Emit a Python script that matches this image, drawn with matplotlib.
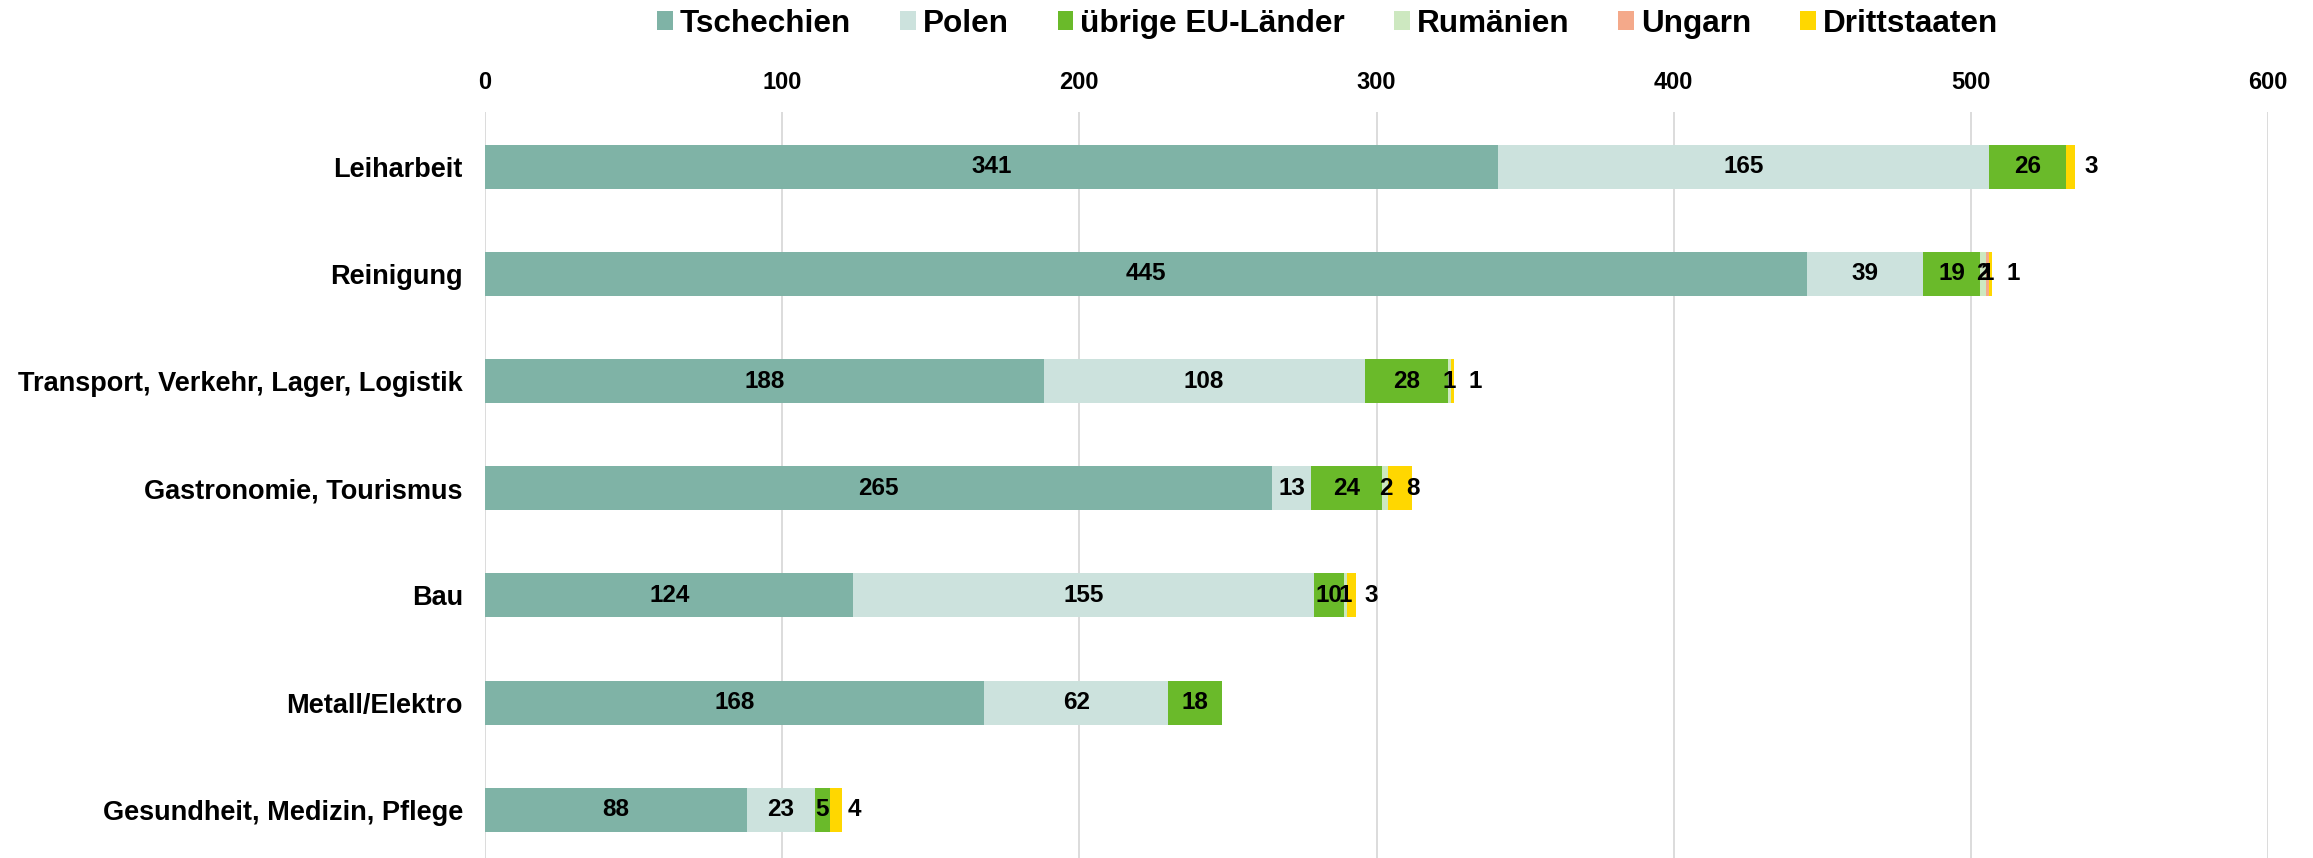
import matplotlib
matplotlib.use("Agg")
import matplotlib.pyplot as plt
from matplotlib.patches import Patch
import numpy as np

plt.rcParams['font.family'] = ['Liberation Sans', 'DejaVu Sans']
plt.rcParams['font.weight'] = 'bold'

categories = ["Leiharbeit", "Reinigung", "Transport, Verkehr, Lager, Logistik",
              "Gastronomie, Tourismus", "Bau", "Metall/Elektro",
              "Gesundheit, Medizin, Pflege"]
series_names = ["Tschechien", "Polen", "übrige EU-Länder", "Rumänien", "Ungarn", "Drittstaaten"]
tschechien = [341, 445, 188, 265, 124, 168, 88]
polen = [165, 39, 108, 13, 155, 62, 23]
uebrige_eu = [26, 19, 28, 24, 10, 18, 5]
rumaenien = [0, 2, 1, 2, 1, 0, 0]
ungarn = [0, 1, 0, 0, 0, 0, 0]
drittstaaten = [3, 1, 1, 8, 3, 0, 4]
colors = ["#7fb3a6", "#cce2dd", "#6aba2a", "#cde8c0", "#f4a98a", "#ffd700"]
xticks = [0, 100, 200, 300, 400, 500, 600]

series = [tschechien, polen, uebrige_eu, rumaenien, ungarn, drittstaaten]

W, H = 2313, 858
fig = plt.figure(figsize=(W / 100, H / 100), dpi=100)
ax_left = 485 / W
ax_right = 2268 / W
ax_top = 1 - 112 / H
ax = fig.add_axes([ax_left, 0, ax_right - ax_left, ax_top])

y = np.arange(len(categories))
left = np.zeros(len(categories))
bar_h = 0.41
for i, (name, vals, c) in enumerate(zip(series_names, series, colors)):
    vals = np.array(vals, dtype=float)
    ax.barh(y, vals, left=left, height=bar_h, color=c, zorder=3, label=name)
    for j in range(len(categories)):
        v = vals[j]
        if v <= 0:
            continue
        if i == len(series) - 1:
            ax.annotate(f"{int(v)}", xy=(left[j], y[j]), xytext=(13, 0),
                        textcoords="offset points", ha="left", va="center",
                        fontsize=17.5, fontweight="bold", color="black", zorder=5)
        else:
            ax.text(left[j] + v / 2, y[j], f"{int(v)}", ha="center", va="center",
                    fontsize=17.5, fontweight="bold", color="black", zorder=5)
    left = left + vals

ax.set_xlim(0, 600)
ax.set_ylim(6.45, -0.51)
ax.set_yticks(y)
ax.set_yticklabels(categories, fontsize=19.5, fontweight="bold")
ax.set_xticks(xticks)
ax.set_xticklabels([str(t) for t in xticks], fontsize=17, fontweight="bold")
ax.xaxis.tick_top()
ax.tick_params(axis="x", length=0, pad=13)
ax.tick_params(axis="y", length=0, pad=16)
for s in ax.spines.values():
    s.set_visible(False)
ax.grid(axis="x", color="#dcdcdc", linewidth=1.4, zorder=1)
ax.set_axisbelow(True)

handles = [Patch(facecolor=c, edgecolor="none") for c in colors]
fig.legend(handles, series_names, loc="center", bbox_to_anchor=(0.574, 1 - 24 / H),
           ncol=6, frameon=False, handlelength=0.5, handleheight=0.55,
           handletextpad=0.22, columnspacing=1.55,
           prop={"weight": "bold", "size": 22.7})

fig.savefig("out.png", dpi=100)
